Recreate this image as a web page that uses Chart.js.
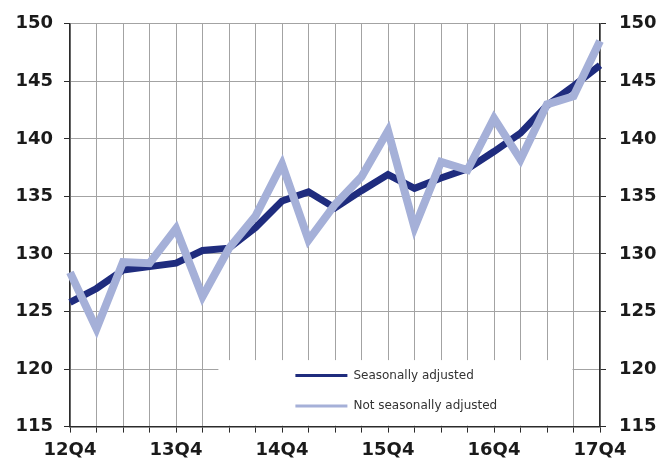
<!DOCTYPE html>
<html>
<head>
<meta charset="utf-8">
<style>
  html, body { margin: 0; padding: 0; background: #ffffff; }
  #wrap { width: 662px; height: 462px; }
</style>
<script src="https://cdn.jsdelivr.net/npm/chart.js@4/dist/chart.umd.min.js"></script>
</head>
<body>
<div id="wrap"><canvas id="chart" width="662" height="462"></canvas></div>
<script>
// Quarterly index, 12Q4 to 17Q4
const quarters = [
  '12Q4', '13Q1', '13Q2', '13Q3', '13Q4', '14Q1', '14Q2', '14Q3', '14Q4',
  '15Q1', '15Q2', '15Q3', '15Q4', '16Q1', '16Q2', '16Q3', '16Q4',
  '17Q1', '17Q2', '17Q3', '17Q4'
];
const seasonallyAdjusted = [
  125.8, 127.0, 128.6, 128.9, 129.2, 130.3, 130.5, 132.3, 134.6,
  135.4, 134.0, 135.5, 136.9, 135.7, 136.6, 137.4, 138.9,
  140.5, 142.9, 144.6, 146.4
];
const notSeasonallyAdjusted = [
  128.4, 123.5, 129.3, 129.2, 132.2, 126.3, 130.5, 133.3, 137.8,
  131.2, 134.3, 136.7, 140.7, 132.3, 138.0, 137.3, 141.8,
  138.2, 143.0, 143.7, 148.5
];
const seriesNames = ['Seasonally adjusted', 'Not seasonally adjusted'];
const yMin = 115, yMax = 150, yStep = 5;

const DARK = '#1f2c7e';
const LIGHT = '#a5b0d8';
const GRID = '#a3a3a3';
const AXIS = '#2b2b2b';
const FONT = '"DejaVu Sans", Verdana, sans-serif';

// Legend panel sitting inside the lower part of the plot
const insideLegend = {
  id: 'insideLegend',
  beforeDatasetsDraw(chart) {
    const { ctx, chartArea } = chart;
    const sx = chart.scales.x;
    const left = sx.getPixelForValue(5.6);
    const right = sx.getPixelForValue(19) - 1;
    const top = chartArea.bottom - 66.5;
    const bottom = chartArea.bottom - 1;
    ctx.save();
    ctx.fillStyle = '#ffffff';
    ctx.fillRect(left, top, right - left, bottom - top);

    const lineX0 = left + 77, lineX1 = left + 129, textX = left + 135;
    const rows = [top + 15.5, top + 46];
    chart.data.datasets.forEach((ds, i) => {
      const y = rows[i];
      ctx.strokeStyle = ds.borderColor;
      ctx.lineWidth = 3;
      ctx.beginPath();
      ctx.moveTo(lineX0, y);
      ctx.lineTo(lineX1, y);
      ctx.stroke();
      ctx.fillStyle = '#333333';
      ctx.font = '12px ' + FONT;
      ctx.textAlign = 'left';
      ctx.textBaseline = 'middle';
      ctx.fillText(ds.label, textX, y);
    });
    ctx.restore();
  }
};

const tickFont = { family: FONT, size: 18, weight: 'bold' };

new Chart(document.getElementById('chart'), {
  type: 'line',
  data: {
    labels: quarters,
    datasets: [
      {
        label: seriesNames[0],
        data: seasonallyAdjusted,
        borderColor: DARK,
        backgroundColor: DARK,
        borderWidth: 7,
        pointRadius: 0,
        tension: 0,
        order: 1,
        yAxisID: 'y'
      },
      {
        label: seriesNames[1],
        data: notSeasonallyAdjusted,
        borderColor: LIGHT,
        backgroundColor: LIGHT,
        borderWidth: 8,
        pointRadius: 0,
        tension: 0,
        order: 0,
        yAxisID: 'y'
      }
    ]
  },
  options: {
    responsive: false,
    animation: false,
    devicePixelRatio: 1,
    layout: { padding: { top: 22.7, left: 0, right: 0, bottom: 0 } },
    plugins: {
      legend: { display: false },
      tooltip: { enabled: false }
    },
    scales: {
      x: {
        type: 'category',
        offset: false,
        grid: {
          color: GRID,
          lineWidth: 1,
          drawTicks: true,
          tickLength: 6,
          tickColor: AXIS
        },
        border: { color: AXIS, width: 1.5 },
        ticks: {
          autoSkip: false,
          maxRotation: 0,
          minRotation: 0,
          padding: 7,
          color: '#1a1a1a',
          font: tickFont,
          callback: function (value, index) {
            return index % 4 === 0 ? quarters[index] : '';
          }
        },
        afterFit(scale) { scale.height = 35.4; }
      },
      y: {
        position: 'left',
        min: yMin,
        max: yMax,
        grid: {
          color: GRID,
          lineWidth: 1,
          drawTicks: true,
          tickLength: 6,
          tickColor: AXIS
        },
        border: { color: AXIS, width: 1.5 },
        ticks: {
          stepSize: yStep,
          padding: 11,
          color: '#1a1a1a',
          font: tickFont
        },
        afterFit(scale) { scale.width = 70; }
      },
      y2: {
        position: 'right',
        min: yMin,
        max: yMax,
        grid: {
          drawOnChartArea: false,
          drawTicks: true,
          tickLength: 6,
          tickColor: AXIS
        },
        border: { color: AXIS, width: 1.5 },
        ticks: {
          stepSize: yStep,
          padding: 13,
          color: '#1a1a1a',
          font: tickFont
        },
        afterFit(scale) { scale.width = 62; }
      }
    }
  },
  plugins: [insideLegend]
});
</script>
</body>
</html>
